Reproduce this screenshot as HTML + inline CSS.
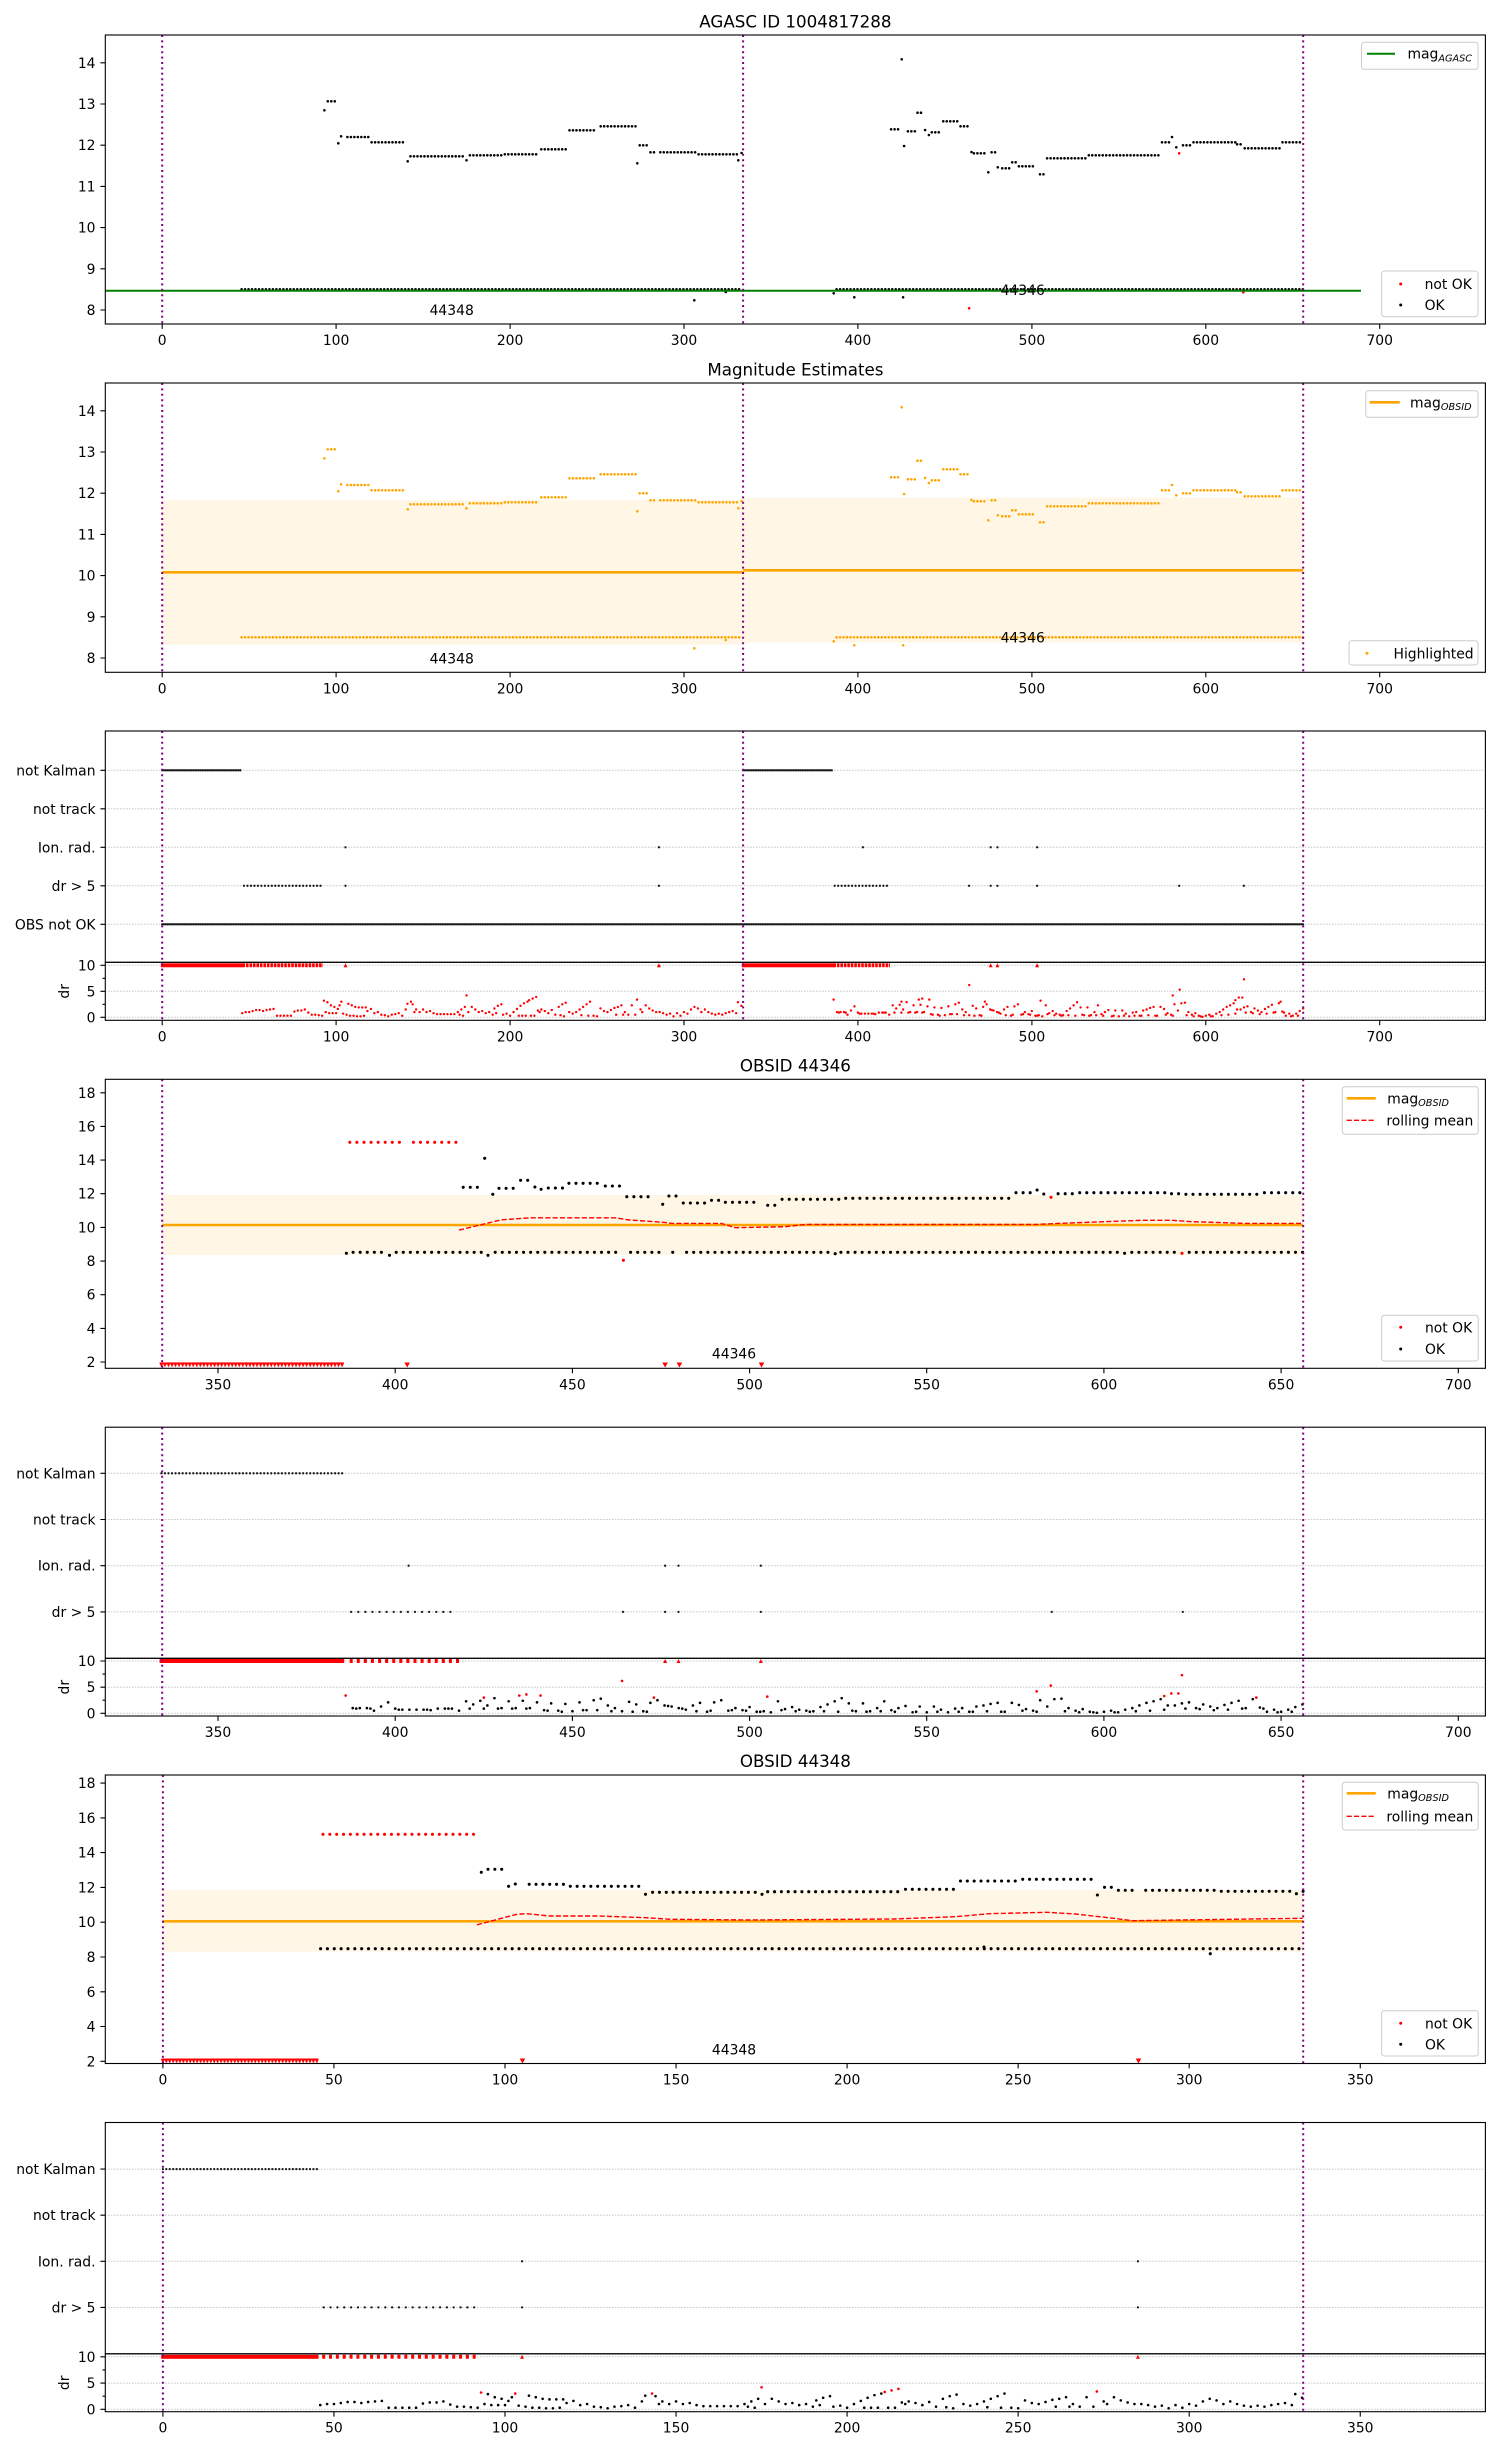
<!DOCTYPE html>
<html><head><meta charset="utf-8"><style>
html,body{margin:0;padding:0;background:#fff;overflow:hidden}
svg{display:block}
.t{font-family:"DejaVu Sans","Liberation Sans",sans-serif;font-size:13.9px;fill:#000}
.ti{font-family:"DejaVu Sans","Liberation Sans",sans-serif;font-size:16.7px;fill:#000;text-anchor:middle}
.e{text-anchor:end}.m{text-anchor:middle}
.ax{fill:none;stroke:#000;stroke-width:1.1}
.tk{fill:none;stroke:#000;stroke-width:1.1}
.g{fill:none;stroke:#b0b0b0;stroke-width:1;stroke-dasharray:1.1 1.9}
.v{fill:none;stroke:#800080;stroke-width:2;stroke-dasharray:2 3.4}
.k1{fill:none;stroke-width:2.6;stroke-linecap:round;stroke-dasharray:0 3.479}
.s1{fill:none;stroke-width:2.6;stroke-linecap:round}
.k4{fill:none;stroke-width:3.1;stroke-linecap:round;stroke-dasharray:0 7.087}
.k6{fill:none;stroke-width:3.1;stroke-linecap:round;stroke-dasharray:0 6.842}
.s4{fill:none;stroke-width:3.1;stroke-linecap:round}
.fd{fill:none;stroke:#1a1a1a;stroke-width:2.3;stroke-linecap:round}
.lg{fill:#fff;fill-opacity:0.8;stroke:#cccccc;stroke-width:1}
.rm{fill:none;stroke:#f00;stroke-width:1.4;stroke-dasharray:5.1 2.2}
</style></head><body>
<svg width="1500" height="2450" viewBox="0 0 1500 2450" xmlns="http://www.w3.org/2000/svg">
<defs>
<marker id="m3r" markerUnits="userSpaceOnUse" markerWidth="4" markerHeight="4" refX="0" refY="0" overflow="visible"><ellipse rx="0.69" ry="0.23" fill="#f00"/></marker>
<marker id="m5k" markerUnits="userSpaceOnUse" markerWidth="4" markerHeight="4" refX="0" refY="0" overflow="visible"><ellipse rx="0.37" ry="0.25" fill="#000"/></marker>
<marker id="m5r" markerUnits="userSpaceOnUse" markerWidth="4" markerHeight="4" refX="0" refY="0" overflow="visible"><ellipse rx="0.37" ry="0.25" fill="#f00"/></marker>
<marker id="m7k" markerUnits="userSpaceOnUse" markerWidth="4" markerHeight="4" refX="0" refY="0" overflow="visible"><ellipse rx="0.38" ry="0.248" fill="#000"/></marker>
<marker id="m7r" markerUnits="userSpaceOnUse" markerWidth="4" markerHeight="4" refX="0" refY="0" overflow="visible"><ellipse rx="0.38" ry="0.248" fill="#f00"/></marker>
<pattern id="tv4" patternUnits="userSpaceOnUse" x="159.6" y="1362.3" width="3.5436" height="6"><path d="M0 0H3.5436V1.4L1.77 5L0 1.4Z" fill="#f00"/></pattern>
<pattern id="tv6" patternUnits="userSpaceOnUse" x="161.19" y="2058.5" width="3.421" height="6"><path d="M0 0H3.421V1.4L1.71 5L0 1.4Z" fill="#f00"/></pattern>
<g id="md">
<path class="k1" d="M327.8 101.3H335.5M347.4 137H368.5M371.6 142.3H406.2M410.5 156.3H464.6M469.9 155.3H502.9M504.8 154.3H538.3M541.3 149.3H566.2M569.5 130.3H597.2M600.7 126.3H635.9M639.7 145.3H647M650.5 152.3H656M660.3 152.3H696.7M698.6 154.3H737.3M241.6 289.3H742M836.6 289.3H1303.5M891.1 129.3H899.8M907.9 131.3H916.5M917.5 112.7H923.2M931.8 132.3H940.5M943.3 121.3H958.2M960.5 126.3H968.7M973.9 153.3H984.9M991.6 152.3H996M1002.2 168.3H1010.3M1012.2 162.3H1017M1018.9 166.3H1033.8M1040 174.3H1045.2M1047.1 158.3H1086.9M1088.8 155.3H1159.6M1162 142.3H1170.6M1183 145.3H1191.2M1193.5 142.3H1236.1M1237.1 144.3H1243.3M1244.7 148.3H1281.6M1282.5 142.3H1303.1"/>
<path class="s1" d="M324.4 110.3h0M338.3 143.3h0M341.1 136.3h0M407.7 161.3h0M466.5 160.3h0M637.3 163.3h0M738.3 160.3h0M741.6 153h0M694.3 300.3h0M725.8 292h0M833.7 293.3h0M854.3 297.3h0M903.1 297.3h0M901.7 59.3h0M904.1 146h0M925.1 130h0M928.9 135h0M971.5 152h0M988.3 172.3h0M997.8 167.3h0M1172 137h0M1176.3 147.3h0"/>
</g>
</defs>

<!-- ================= PANEL 1 ================= -->
<text class="ti" x="795.4" y="27.5">AGASC ID 1004817288</text>
<use href="#md" stroke="#000"/>
<path class="s1" stroke="#f00" d="M969.1 308.3h0M1243.3 292.3h0M1179.2 153.3h0"/>
<path d="M105.3 290.7H1361" stroke="#008000" stroke-width="2" fill="none"/>
<path class="v" d="M162.2 35V324M743.1 35V324M1303.2 35V324"/>
<text class="t m" x="451.7" y="315">44348</text>
<text class="t m" x="1022.7" y="295">44346</text>
<rect class="ax" x="105.3" y="35" width="1380.1" height="289"/>
<path class="tk" d="M100.4 310H105.3M100.4 268.8H105.3M100.4 227.6H105.3M100.4 186.4H105.3M100.4 145.2H105.3M100.4 104H105.3M100.4 62.8H105.3M162.2 324V328.9M336.1 324V328.9M510.1 324V328.9M684 324V328.9M857.9 324V328.9M1031.9 324V328.9M1205.8 324V328.9M1379.7 324V328.9"/>
<g class="t e"><text x="95.5" y="315">8</text><text x="95.5" y="273.8">9</text><text x="95.5" y="232.6">10</text><text x="95.5" y="191.4">11</text><text x="95.5" y="150.2">12</text><text x="95.5" y="109">13</text><text x="95.5" y="67.8">14</text></g>
<g class="t m"><text x="162.2" y="345">0</text><text x="336.1" y="345">100</text><text x="510.1" y="345">200</text><text x="684" y="345">300</text><text x="857.9" y="345">400</text><text x="1031.9" y="345">500</text><text x="1205.8" y="345">600</text><text x="1379.7" y="345">700</text></g>
<rect class="lg" x="1361.5" y="42.3" width="116.5" height="27" rx="2.8"/>
<path d="M1367 53.7H1395" stroke="#008000" stroke-width="2"/>
<text class="t" x="1407.5" y="58.5">mag<tspan font-style="italic" font-size="9.7" dy="2.8">AGASC</tspan></text>
<rect class="lg" x="1381.6" y="271" width="96.4" height="45.7" rx="2.8"/>
<circle cx="1400.7" cy="284" r="1.5" fill="#f00"/><text class="t" x="1424.6" y="289">not OK</text>
<circle cx="1400.7" cy="305" r="1.5" fill="#000"/><text class="t" x="1424.6" y="310">OK</text>

<!-- ================= PANEL 2 ================= -->
<text class="ti" x="795.4" y="375.3">Magnitude Estimates</text>
<rect x="162.2" y="500" width="580.9" height="144.7" fill="orange" fill-opacity="0.1"/>
<rect x="743.1" y="497.7" width="560.1" height="145" fill="orange" fill-opacity="0.1"/>
<use href="#md" stroke="#ffa500" transform="translate(0,348)"/>
<path d="M162.2 572.3H743.1M743.1 570.3H1303.2" stroke="#ffa500" stroke-width="2.6" fill="none"/>
<path class="v" d="M162.2 383V672.3M743.1 383V672.3M1303.2 383V672.3"/>
<text class="t m" x="451.7" y="663.3">44348</text>
<text class="t m" x="1022.7" y="642.7">44346</text>
<rect class="ax" x="105.3" y="383" width="1380.1" height="289.3"/>
<path class="tk" d="M100.4 658H105.3M100.4 616.8H105.3M100.4 575.6H105.3M100.4 534.4H105.3M100.4 493.2H105.3M100.4 452H105.3M100.4 410.8H105.3M162.2 672.3V677.2M336.1 672.3V677.2M510.1 672.3V677.2M684 672.3V677.2M857.9 672.3V677.2M1031.9 672.3V677.2M1205.8 672.3V677.2M1379.7 672.3V677.2"/>
<g class="t e"><text x="95.5" y="663">8</text><text x="95.5" y="621.8">9</text><text x="95.5" y="580.6">10</text><text x="95.5" y="539.4">11</text><text x="95.5" y="498.2">12</text><text x="95.5" y="457">13</text><text x="95.5" y="415.8">14</text></g>
<g class="t m"><text x="162.2" y="693.3">0</text><text x="336.1" y="693.3">100</text><text x="510.1" y="693.3">200</text><text x="684" y="693.3">300</text><text x="857.9" y="693.3">400</text><text x="1031.9" y="693.3">500</text><text x="1205.8" y="693.3">600</text><text x="1379.7" y="693.3">700</text></g>
<rect class="lg" x="1365.8" y="390.7" width="112.2" height="26.6" rx="2.8"/>
<path d="M1369.6 402.3H1399.8" stroke="#ffa500" stroke-width="2.6"/>
<text class="t" x="1410" y="407.3">mag<tspan font-style="italic" font-size="9.7" dy="2.8">OBSID</tspan></text>
<rect class="lg" x="1349" y="640.7" width="129" height="24.3" rx="2.8"/>
<circle cx="1367" cy="653.3" r="1.5" fill="#ffa500"/><text class="t" x="1393.5" y="658.3">Highlighted</text>

<!-- ================= PANEL 3 ================= -->
<path class="g" d="M105.3 770.3H1485.4M105.3 808.8H1485.4M105.3 847.3H1485.4M105.3 885.8H1485.4M105.3 924.3H1485.4M105.3 965.3H1485.4M105.3 991.3H1485.4M105.3 1017.3H1485.4"/>
<path class="fd" stroke-dasharray="0 1.739" d="M162.2 770.3H242M743.1 770.3H833.2M162.2 924.3H1303.6"/>
<path class="fd" stroke-dasharray="0 3.479" d="M244 885.8H322M834.7 885.8H889.3"/>
<path class="fd" d="M345.5 847.3h0M658.9 847.3h0M862.9 847.3h0M990.7 847.3h0M997.4 847.3h0M1037.1 847.3h0M345.5 885.8h0M658.9 885.8h0M969.1 885.8h0M990.7 885.8h0M997.4 885.8h0M1037.1 885.8h0M1179.2 885.8h0M1243.8 885.8h0"/>
<rect x="160.9" y="963.3" width="82" height="4" fill="#f00"/>
<rect x="741.8" y="963.3" width="92.3" height="4" fill="#f00"/>
<path d="M242.5 965.3H323M833.4 965.3H890" stroke="#f00" stroke-width="4" stroke-dasharray="2.6 0.88" fill="none"/>
<path fill="#f00" d="M343.5 967.3h4l-2 -4zM656.9 967.3h4l-2 -4zM988.7 967.3h4l-2 -4zM995.4 967.3h4l-2 -4zM1035.1 967.3h4l-2 -4z"/>
<g transform="matrix(1.7393 0 0 -5.2 162.2 1017.3)">
<polyline fill="none" stroke="none" marker-start="url(#m3r)" marker-mid="url(#m3r)" marker-end="url(#m3r)" points="46,0.8 48,1 50,1 52,1.2 54,1.4 56,1.4 58,1.2 60,1.4 62,1.5 64,1.6 66,0.3 68,0.3 70,0.3 72,0.3 74,0.3 76,1.1 78,1.3 80,1.3 82,1.5 84,0.9 86,0.5 88,0.5 90,0.4 92,0.3 94,1 95,2.9 96,0.8 97,2.3 98,0.8 99,2 100,0.8 101,1.6 102,2.3 104,0.7 106,0.5 107,2.6 108,0.3 109,2.3 110,0.3 111,2 112,0.2 113,1.9 114,0.2 115,1.9 116,0.3 117,1.9 118,1.2 120,1.6 122,0.8 124,1 126,0.5 128,0.4 130,0.2 132,0.5 134,0.6 136,0.8 138,0.3 140,1.5 141,2.6 144,2.5 145,1 146,1.5 148,1 150,1.5 152,1 154,1.2 156,0.8 158,0.6 160,0.6 162,0.6 164,0.6 166,0.6 168,0.6 170,1 171,0.5 172,1.5 173,0.3 174,2 176,1 178,2 180,1.5 182,1 184,1.2 186,0.8 188,1 190,0.5 191,1.7 192,0.8 193,2.2 195,2.5 196,0.5 198,0.7 200,0.3 202,1 204,1.6 205,0.3 206,2.2 207,0.3 208,2.7 209,0.3 210,3 212,0.3 214,0.3 216,1.3 217,1 218,1.5 220,1.2 222,0.8 224,1.4 226,0.5 228,2 229,0.4 230,2.5 231,0.2 232,2.8 234,1 236,0.7 238,1 240,1.5 241,0.4 242,2 244,2.5 245,0.3 246,3 248,0.3 250,0.2 252,1.7 254,1.2 256,1 258,1.4 260,1.8 261,0.5 262,2 264,2.3 265,0.5 266,1 268,0.5 270,2.3 272,0.5 275,1.5 276,1 278,2.3 280,1.7 282,1.3 284,1 286,1 288,0.8 290,0.5 292,0.7 294,0.2 296,0.8 298,0.3 300,1 302,0.7 304,1.5 306,2 308,1.7 310,1 312,1.5 314,1 316,0.7 318,0.5 320,0.7 322,0.5 324,0.8 326,1 328,1.2 330,0.8 331,2.9 333,2.2 93,3.2 103,3 143,3 175,4.2 211,3.3 213,3.6 215,3.9 273,3.4"/>
<polyline fill="none" stroke="none" marker-start="url(#m3r)" marker-mid="url(#m3r)" marker-end="url(#m3r)" points="388,1 390,1 392,1 394,0.5 396,1.3 398,2.1 400,0.9 402,0.7 404,0.7 406,0.7 408,0.7 410,0.6 412,0.9 414,0.9 416,0.9 418,0.5 420,2.3 422,1.7 424,2.4 426,1.5 428,2.9 430,1 432,2.3 434,1 436,2.4 438,1 440,2.1 442,0.6 444,1.9 446,0.5 448,1.8 450,0.4 452,2.1 454,0.6 456,2.5 458,2.8 460,1.5 462,1 464,0.4 466,2.2 468,1.7 470,0.4 472,2 474,2.5 476,1.5 478,1.3 480,1 482,0.7 484,1.5 486,2 488,0.3 490,2.1 492,2.5 494,0.5 496,1 498,0.6 500,1.2 502,0.3 504,0.4 506,0.2 508,2.3 510,0.8 512,1.2 514,0.7 516,0.5 518,0.4 520,1.2 522,1.7 524,2.3 526,2.9 528,1.9 530,0.4 532,1.9 534,0.4 536,1 538,2.3 540,0.6 542,1 544,1.4 546,0.2 548,1.3 550,0.2 552,1.3 554,0.7 556,0.2 558,0.9 560,1 562,0.3 564,1.3 566,1.5 568,1.8 570,2 572,0.3 574,2 576,1.6 578,0.8 580,0.5 582,2.5 584,1.3 586,2.7 588,2.8 590,1 592,0.5 594,0.8 596,0.3 598,0.1 600,0.3 602,0.5 604,0.2 606,0.7 608,1 610,1.5 612,2 614,2.3 616,2.7 618,1.5 620,1.5 622,1.9 624,2.1 626,1 628,1.7 630,1.3 632,1 634,1.6 636,2 638,2.4 640,1 642,2.7 644,1.1 646,0.3 648,0.7 650,0.3 652,0.7 654,1.2 656,1.7 389,0.9 393,0.9 401,0.7 409,0.7 415,0.9 421,0.9 425,0.9 429,0.9 433,0.9 437,0.9 443,0.5 447,0.3 453,0.6 457,0.6 461,0.4 467,0.3 471,0.3 477,1.4 481,0.9 485,0.4 489,0.5 495,0.6 499,0.5 503,0.3 509,0.6 513,0.4 517,0.3 521,0.4 525,0.3 529,0.5 533,0.3 537,0.4 541,0.3 547,0.3 553,0.3 559,0.3 563,0.3 567,0.4 571,0.3 577,0.5 581,0.3 589,0.4 593,0.2 597,0.2 603,0.2 609,0.4 613,0.5 617,0.7 623,0.9 627,0.8 631,0.6 635,0.7 639,0.9 645,0.9 649,0.2 653,0.3 386,3.4 425,3 435,3.4 437,3.6 441,3.4 464,6.2 473,3 505,3.2 581,4.2 585,5.3 617,3.3 619,3.8 621,3.8 622,7.3 643,3"/>
</g>
<path class="v" d="M162.2 731V1020.3M743.1 731V1020.3M1303.2 731V1020.3"/>
<rect class="ax" x="105.3" y="731" width="1380.1" height="231.3"/>
<rect class="ax" x="105.3" y="962.3" width="1380.1" height="58"/>
<path class="tk" d="M100.4 770.3H105.3M100.4 808.8H105.3M100.4 847.3H105.3M100.4 885.8H105.3M100.4 924.3H105.3M100.4 965.3H105.3M100.4 991.3H105.3M100.4 1017.3H105.3M102.5 978.3H105.3M102.5 1004.3H105.3M162.2 1020.3V1025.2M336.1 1020.3V1025.2M510.1 1020.3V1025.2M684 1020.3V1025.2M857.9 1020.3V1025.2M1031.9 1020.3V1025.2M1205.8 1020.3V1025.2M1379.7 1020.3V1025.2"/>
<g class="t e"><text x="95.5" y="775.3">not Kalman</text><text x="95.5" y="813.8">not track</text><text x="95.5" y="852.3">Ion. rad.</text><text x="95.5" y="890.8">dr &gt; 5</text><text x="95.5" y="929.3">OBS not OK</text><text x="95.5" y="970.3">10</text><text x="95.5" y="996.3">5</text><text x="95.5" y="1022.3">0</text></g>
<text class="t m" transform="translate(69,991.3) rotate(-90)">dr</text>
<g class="t m"><text x="162.2" y="1041.3">0</text><text x="336.1" y="1041.3">100</text><text x="510.1" y="1041.3">200</text><text x="684" y="1041.3">300</text><text x="857.9" y="1041.3">400</text><text x="1031.9" y="1041.3">500</text><text x="1205.8" y="1041.3">600</text><text x="1379.7" y="1041.3">700</text></g>

<!-- ================= PANEL 4 ================= -->
<text class="ti" x="795.4" y="1071.3">OBSID 44346</text>
<rect x="162.2" y="1195" width="1141" height="60" fill="orange" fill-opacity="0.1"/>
<path class="k4" stroke="#f00" d="M349.8 1142.3H402M413.4 1142.3H458.4"/>
<path class="k4" stroke="#000" d="M463.2 1187.3H478M499 1188.3H513.9M520.6 1180.3H528.3M548.3 1188H563.2M568.9 1183.3H598.6M605.3 1186H620.1M626.8 1196.7H655M668.9 1196H676.6M683.3 1203H705.3M711.5 1200.3H719.2M725.4 1202.3H746.9M767.7 1205.3H775.9M782.1 1199.3H841.4M845.7 1198.3H1011.3M1016 1192.7H1032.8M1058.1 1193.7H1073M1079.7 1192.7H1165.8M1171.5 1193.7H1179.2M1185.9 1194.3H1257.7M1264.4 1192.7H1300.7M353.1 1252.3H383.3M396.2 1252.3H482.8M495.2 1252.3H616.8M630.6 1252.3H659.8M686.6 1252.3H746.9M750 1252.3H829.5M840.9 1252.3H1118.9M1131.8 1252.3H1176.3M1189.2 1252.3H1303.1"/>
<path class="s4" stroke="#000" d="M484.7 1158.3h0M492.8 1194.3h0M534.9 1187h0M541.1 1189.3h0M662.7 1204.3h0M753.8 1202.3h0M1037.1 1190h0M1043.8 1194h0M346.4 1253.3h0M389.5 1255.3h0M488 1255.3h0M672.7 1252.3h0M835.2 1253.7h0M1124.6 1253.3h0"/>
<path class="s4" stroke="#f00" d="M1051 1197.3h0M623.4 1260.3h0M1182 1253.3h0"/>
<path d="M162.2 1225H1303.2" stroke="#ffa500" stroke-width="2.6" fill="none"/>
<polyline class="rm" points="459,1230.1 480.2,1224.9 501.5,1219.8 529.9,1217.8 614.9,1217.8 629.1,1220 664.5,1222.4 671.6,1223.4 721.2,1223.4 735.4,1227.7 785,1226.7 806.3,1224.4 1036.6,1224.4 1068.5,1223 1142.9,1220.3 1171.3,1220.3 1192.5,1221.7 1245.7,1223.4 1302.4,1223.4"/>
<rect x="159.6" y="1362.3" width="184.3" height="5.5" fill="url(#tv4)"/>
<path fill="#f00" d="M404.4 1362.5h5.6l-2.8 5zM662.3 1362.5h5.6l-2.8 5zM676.6 1362.5h5.6l-2.8 5zM758.7 1362.5h5.6l-2.8 5z"/>
<path class="v" d="M162.2 1079.3V1368.3M1303.2 1079.3V1368.3"/>
<text class="t m" x="734" y="1358.3">44346</text>
<rect class="ax" x="105.3" y="1079.3" width="1380.1" height="289"/>
<path class="tk" d="M100.4 1362H105.3M100.4 1328.4H105.3M100.4 1294.7H105.3M100.4 1261.1H105.3M100.4 1227.4H105.3M100.4 1193.7H105.3M100.4 1160.1H105.3M100.4 1126.4H105.3M100.4 1092.8H105.3M218 1368.3V1373.2M395.2 1368.3V1373.2M572.4 1368.3V1373.2M749.6 1368.3V1373.2M926.7 1368.3V1373.2M1103.9 1368.3V1373.2M1281.1 1368.3V1373.2M1458.3 1368.3V1373.2"/>
<g class="t e"><text x="95.5" y="1367">2</text><text x="95.5" y="1333.4">4</text><text x="95.5" y="1299.7">6</text><text x="95.5" y="1266.1">8</text><text x="95.5" y="1232.4">10</text><text x="95.5" y="1198.7">12</text><text x="95.5" y="1165.1">14</text><text x="95.5" y="1131.4">16</text><text x="95.5" y="1097.8">18</text></g>
<g class="t m"><text x="218" y="1389.3">350</text><text x="395.2" y="1389.3">400</text><text x="572.4" y="1389.3">450</text><text x="749.6" y="1389.3">500</text><text x="926.7" y="1389.3">550</text><text x="1103.9" y="1389.3">600</text><text x="1281.1" y="1389.3">650</text><text x="1458.3" y="1389.3">700</text></g>
<rect class="lg" x="1342.3" y="1086.7" width="135.9" height="47.6" rx="2.8"/>
<path d="M1346.7 1098.3H1375.8" stroke="#ffa500" stroke-width="2.6"/>
<text class="t" x="1387.3" y="1103.3">mag<tspan font-style="italic" font-size="9.7" dy="2.8">OBSID</tspan></text>
<path class="rm" d="M1346.7 1120.3H1375.8"/>
<text class="t" x="1386.4" y="1125.3">rolling mean</text>
<rect class="lg" x="1381.6" y="1315.3" width="96.6" height="45.7" rx="2.8"/>
<circle cx="1400.7" cy="1327.3" r="1.5" fill="#f00"/><text class="t" x="1425" y="1332.3">not OK</text>
<circle cx="1400.7" cy="1349" r="1.5" fill="#000"/><text class="t" x="1425" y="1354">OK</text>

<!-- ================= PANEL 5 ================= -->
<path class="g" d="M105.3 1473.3H1485.4M105.3 1519.5H1485.4M105.3 1565.7H1485.4M105.3 1611.9H1485.4M105.3 1661H1485.4M105.3 1687.2H1485.4M105.3 1713.3H1485.4"/>
<path class="fd" stroke-dasharray="0 3.544" d="M161.4 1473.3H343"/>
<path class="fd" stroke-dasharray="0 7.087" d="M351.2 1611.9H457"/>
<path class="fd" d="M408.6 1565.7h0M665.1 1565.7h0M678.5 1565.7h0M760.8 1565.7h0M623 1611.9h0M665.1 1611.9h0M678.5 1611.9h0M760.8 1611.9h0M1051.7 1611.9h0M1182.8 1611.9h0"/>
<rect x="159.6" y="1659" width="184.6" height="4" fill="#f00"/>
<path d="M349.7 1661H460" stroke="#f00" stroke-width="4" stroke-dasharray="3 4.087" fill="none"/>
<path fill="#f00" d="M663.1 1663h4l-2 -4zM676.5 1663h4l-2 -4zM758.8 1663h4l-2 -4z"/>
<g transform="matrix(3.5436 0 0 -5.23 -1022.2 1713.3)">
<polyline fill="none" stroke="none" marker-start="url(#m5k)" marker-mid="url(#m5k)" marker-end="url(#m5k)" points="388,1 390,1 392,1 394,0.5 396,1.3 398,2.1 400,0.9 402,0.7 404,0.7 406,0.7 408,0.7 410,0.6 412,0.9 414,0.9 416,0.9 418,0.5 420,2.3 422,1.7 424,2.4 426,1.5 428,2.9 430,1 432,2.3 434,1 436,2.4 438,1 440,2.1 442,0.6 444,1.9 446,0.5 448,1.8 450,0.4 452,2.1 454,0.6 456,2.5 458,2.8 460,1.5 462,1 464,0.4 466,2.2 468,1.7 470,0.4 472,2 474,2.5 476,1.5 478,1.3 480,1 482,0.7 484,1.5 486,2 488,0.3 490,2.1 492,2.5 494,0.5 496,1 498,0.6 500,1.2 502,0.3 504,0.4 506,0.2 508,2.3 510,0.8 512,1.2 514,0.7 516,0.5 518,0.4 520,1.2 522,1.7 524,2.3 526,2.9 528,1.9 530,0.4 532,1.9 534,0.4 536,1 538,2.3 540,0.6 542,1 544,1.4 546,0.2 548,1.3 550,0.2 552,1.3 554,0.7 556,0.2 558,0.9 560,1 562,0.3 564,1.3 566,1.5 568,1.8 570,2 572,0.3 574,2 576,1.6 578,0.8 580,0.5 582,2.5 584,1.3 586,2.7 588,2.8 590,1 592,0.5 594,0.8 596,0.3 598,0.1 600,0.3 602,0.5 604,0.2 606,0.7 608,1 610,1.5 612,2 614,2.3 616,2.7 618,1.5 620,1.5 622,1.9 624,2.1 626,1 628,1.7 630,1.3 632,1 634,1.6 636,2 638,2.4 640,1 642,2.7 644,1.1 646,0.3 648,0.7 650,0.3 652,0.7 654,1.2 656,1.7 389,0.9 393,0.9 401,0.7 409,0.7 415,0.9 421,0.9 425,0.9 429,0.9 433,0.9 437,0.9 443,0.5 447,0.3 453,0.6 457,0.6 461,0.4 467,0.3 471,0.3 477,1.4 481,0.9 485,0.4 489,0.5 495,0.6 499,0.5 503,0.3 509,0.6 513,0.4 517,0.3 521,0.4 525,0.3 529,0.5 533,0.3 537,0.4 541,0.3 547,0.3 553,0.3 559,0.3 563,0.3 567,0.4 571,0.3 577,0.5 581,0.3 589,0.4 593,0.2 597,0.2 603,0.2 609,0.4 613,0.5 617,0.7 623,0.9 627,0.8 631,0.6 635,0.7 639,0.9 645,0.9 649,0.2 653,0.3"/>
<polyline fill="none" stroke="none" marker-start="url(#m5r)" marker-mid="url(#m5r)" marker-end="url(#m5r)" points="386,3.4 425,3 435,3.4 437,3.6 441,3.4 464,6.2 473,3 505,3.2 581,4.2 585,5.3 617,3.3 619,3.8 621,3.8 622,7.3 643,3"/>
</g>
<path class="v" d="M162.2 1427.2V1716M1303.2 1427.2V1716"/>
<rect class="ax" x="105.3" y="1427.2" width="1380.1" height="231.1"/>
<rect class="ax" x="105.3" y="1658.3" width="1380.1" height="57.7"/>
<path class="tk" d="M100.4 1473.3H105.3M100.4 1519.5H105.3M100.4 1565.7H105.3M100.4 1611.9H105.3M100.4 1661H105.3M100.4 1687.2H105.3M100.4 1713.3H105.3M102.5 1674.1H105.3M102.5 1700.2H105.3M218 1716V1720.9M395.2 1716V1720.9M572.4 1716V1720.9M749.6 1716V1720.9M926.7 1716V1720.9M1103.9 1716V1720.9M1281.1 1716V1720.9M1458.3 1716V1720.9"/>
<g class="t e"><text x="95.5" y="1478.3">not Kalman</text><text x="95.5" y="1524.5">not track</text><text x="95.5" y="1570.7">Ion. rad.</text><text x="95.5" y="1616.9">dr &gt; 5</text><text x="95.5" y="1666">10</text><text x="95.5" y="1692.2">5</text><text x="95.5" y="1718.3">0</text></g>
<text class="t m" transform="translate(69,1687.2) rotate(-90)">dr</text>
<g class="t m"><text x="218" y="1737">350</text><text x="395.2" y="1737">400</text><text x="572.4" y="1737">450</text><text x="749.6" y="1737">500</text><text x="926.7" y="1737">550</text><text x="1103.9" y="1737">600</text><text x="1281.1" y="1737">650</text><text x="1458.3" y="1737">700</text></g>

<!-- ================= PANEL 6 ================= -->
<text class="ti" x="795.4" y="1767">OBSID 44348</text>
<rect x="162.9" y="1890" width="1140.3" height="61.7" fill="orange" fill-opacity="0.1"/>
<path class="k6" stroke="#f00" d="M323 1834.3H475.6"/>
<path class="k6" stroke="#000" d="M488 1869.3H502M529.2 1884.3H564.1M570.3 1886.3H639.3M652.6 1892.3H759.9M767.7 1891.7H899.8M905.5 1889.3H954.8M960.5 1881H1016.5M1022.7 1879.3H1091.2M1104.5 1887.3H1111.7M1118.4 1890.3H1133.3M1145.7 1890.3H1214.6M1221.3 1891.3H1291.2M320.6 1948.7H1303.5"/>
<path class="s4" stroke="#000" d="M481.3 1872.3h0M508.6 1886.3h0M515.3 1884h0M645.5 1894.3h0M762 1894.3h0M1097.4 1895h0M1296.4 1893.7h0M1303.1 1891.3h0M984 1947h0M1210.3 1953.7h0"/>
<path d="M162.9 1921.3H1303.2" stroke="#ffa500" stroke-width="2.6" fill="none"/>
<polyline class="rm" points="477,1924.8 516.7,1914.3 526.3,1913.7 550.2,1916 598.1,1916 645.9,1917.7 669.9,1919.3 750,1920 893.5,1919 955.7,1916.7 989.2,1913.7 1046.7,1912.3 1075.4,1914 1113.6,1918.3 1132.8,1920.7 1180.6,1920 1302.6,1918.3"/>
<rect x="161.19" y="2058.5" width="157.3" height="5" fill="url(#tv6)"/>
<path fill="#f00" d="M519.7 2058.5h5.6l-2.8 5zM1135.7 2058.5h5.6l-2.8 5z"/>
<path class="v" d="M162.9 1775V2063.5M1303.2 1775V2063.5"/>
<text class="t m" x="734" y="2054.3">44348</text>
<rect class="ax" x="105.3" y="1775" width="1380.1" height="288.5"/>
<path class="tk" d="M100.4 2061.3H105.3M100.4 2026.5H105.3M100.4 1991.8H105.3M100.4 1957H105.3M100.4 1922.2H105.3M100.4 1887.4H105.3M100.4 1852.6H105.3M100.4 1817.9H105.3M100.4 1783.1H105.3M162.9 2063.5V2068.4M333.95 2063.5V2068.4M505 2063.5V2068.4M676.05 2063.5V2068.4M847.1 2063.5V2068.4M1018.15 2063.5V2068.4M1189.2 2063.5V2068.4M1360.25 2063.5V2068.4"/>
<g class="t e"><text x="95.5" y="2066.3">2</text><text x="95.5" y="2031.5">4</text><text x="95.5" y="1996.8">6</text><text x="95.5" y="1962">8</text><text x="95.5" y="1927.2">10</text><text x="95.5" y="1892.4">12</text><text x="95.5" y="1857.6">14</text><text x="95.5" y="1822.9">16</text><text x="95.5" y="1788.1">18</text></g>
<g class="t m"><text x="162.9" y="2084.5">0</text><text x="333.95" y="2084.5">50</text><text x="505" y="2084.5">100</text><text x="676.05" y="2084.5">150</text><text x="847.1" y="2084.5">200</text><text x="1018.15" y="2084.5">250</text><text x="1189.2" y="2084.5">300</text><text x="1360.25" y="2084.5">350</text></g>
<rect class="lg" x="1342.3" y="1782.3" width="135.9" height="47.7" rx="2.8"/>
<path d="M1346.7 1793.3H1375.8" stroke="#ffa500" stroke-width="2.6"/>
<text class="t" x="1387.3" y="1798.3">mag<tspan font-style="italic" font-size="9.7" dy="2.8">OBSID</tspan></text>
<path class="rm" d="M1346.7 1816.3H1375.8"/>
<text class="t" x="1386.4" y="1821.3">rolling mean</text>
<rect class="lg" x="1381.6" y="2010.7" width="96.6" height="45.3" rx="2.8"/>
<circle cx="1400.7" cy="2023.3" r="1.5" fill="#f00"/><text class="t" x="1425" y="2028.3">not OK</text>
<circle cx="1400.7" cy="2044.3" r="1.5" fill="#000"/><text class="t" x="1425" y="2049.3">OK</text>

<!-- ================= PANEL 7 ================= -->
<path class="g" d="M105.3 2169.1H1485.4M105.3 2215.2H1485.4M105.3 2261.3H1485.4M105.3 2307.4H1485.4M105.3 2356.8H1485.4M105.3 2383.1H1485.4M105.3 2409.3H1485.4"/>
<path class="fd" stroke-dasharray="0 3.421" d="M162.9 2169.1H317.3"/>
<path class="fd" stroke-dasharray="0 6.842" d="M323.7 2307.4H474.7"/>
<path class="fd" d="M522.1 2261.3h0M1137.9 2261.3h0M522.1 2307.4h0M1137.9 2307.4h0"/>
<rect x="161.2" y="2354.8" width="157.3" height="4" fill="#f00"/>
<path d="M322.2 2356.8H477" stroke="#f00" stroke-width="4" stroke-dasharray="3 3.842" fill="none"/>
<path fill="#f00" d="M520.1 2358.8h4l-2 -4zM1135.9 2358.8h4l-2 -4z"/>
<g transform="matrix(3.421 0 0 -5.25 162.9 2409.3)">
<polyline fill="none" stroke="none" marker-start="url(#m7k)" marker-mid="url(#m7k)" marker-end="url(#m7k)" points="46,0.8 48,1 50,1 52,1.2 54,1.4 56,1.4 58,1.2 60,1.4 62,1.5 64,1.6 66,0.3 68,0.3 70,0.3 72,0.3 74,0.3 76,1.1 78,1.3 80,1.3 82,1.5 84,0.9 86,0.5 88,0.5 90,0.4 92,0.3 94,1 95,2.9 96,0.8 97,2.3 98,0.8 99,2 100,0.8 101,1.6 102,2.3 104,0.7 106,0.5 107,2.6 108,0.3 109,2.3 110,0.3 111,2 112,0.2 113,1.9 114,0.2 115,1.9 116,0.3 117,1.9 118,1.2 120,1.6 122,0.8 124,1 126,0.5 128,0.4 130,0.2 132,0.5 134,0.6 136,0.8 138,0.3 140,1.5 141,2.6 144,2.5 145,1 146,1.5 148,1 150,1.5 152,1 154,1.2 156,0.8 158,0.6 160,0.6 162,0.6 164,0.6 166,0.6 168,0.6 170,1 171,0.5 172,1.5 173,0.3 174,2 176,1 178,2 180,1.5 182,1 184,1.2 186,0.8 188,1 190,0.5 191,1.7 192,0.8 193,2.2 195,2.5 196,0.5 198,0.7 200,0.3 202,1 204,1.6 205,0.3 206,2.2 207,0.3 208,2.7 209,0.3 210,3 212,0.3 214,0.3 216,1.3 217,1 218,1.5 220,1.2 222,0.8 224,1.4 226,0.5 228,2 229,0.4 230,2.5 231,0.2 232,2.8 234,1 236,0.7 238,1 240,1.5 241,0.4 242,2 244,2.5 245,0.3 246,3 248,0.3 250,0.2 252,1.7 254,1.2 256,1 258,1.4 260,1.8 261,0.5 262,2 264,2.3 265,0.5 266,1 268,0.5 270,2.3 272,0.5 275,1.5 276,1 278,2.3 280,1.7 282,1.3 284,1 286,1 288,0.8 290,0.5 292,0.7 294,0.2 296,0.8 298,0.3 300,1 302,0.7 304,1.5 306,2 308,1.7 310,1 312,1.5 314,1 316,0.7 318,0.5 320,0.7 322,0.5 324,0.8 326,1 328,1.2 330,0.8 331,2.9 333,2.2"/>
<polyline fill="none" stroke="none" marker-start="url(#m7r)" marker-mid="url(#m7r)" marker-end="url(#m7r)" points="93,3.2 103,3 143,3 175,4.2 211,3.3 213,3.6 215,3.9 273,3.4"/>
</g>
<path class="v" d="M162.9 2122.5V2411.7M1303.2 2122.5V2411.7"/>
<rect class="ax" x="105.3" y="2122.5" width="1380.1" height="231.3"/>
<rect class="ax" x="105.3" y="2353.8" width="1380.1" height="57.9"/>
<path class="tk" d="M100.4 2169.1H105.3M100.4 2215.2H105.3M100.4 2261.3H105.3M100.4 2307.4H105.3M100.4 2356.8H105.3M100.4 2383.1H105.3M100.4 2409.3H105.3M102.5 2369.9H105.3M102.5 2396.2H105.3M162.9 2411.7V2416.6M333.95 2411.7V2416.6M505 2411.7V2416.6M676.05 2411.7V2416.6M847.1 2411.7V2416.6M1018.15 2411.7V2416.6M1189.2 2411.7V2416.6M1360.25 2411.7V2416.6"/>
<g class="t e"><text x="95.5" y="2174.1">not Kalman</text><text x="95.5" y="2220.2">not track</text><text x="95.5" y="2266.3">Ion. rad.</text><text x="95.5" y="2312.4">dr &gt; 5</text><text x="95.5" y="2361.8">10</text><text x="95.5" y="2388.1">5</text><text x="95.5" y="2414.3">0</text></g>
<text class="t m" transform="translate(69,2382.8) rotate(-90)">dr</text>
<g class="t m"><text x="162.9" y="2432.7">0</text><text x="333.95" y="2432.7">50</text><text x="505" y="2432.7">100</text><text x="676.05" y="2432.7">150</text><text x="847.1" y="2432.7">200</text><text x="1018.15" y="2432.7">250</text><text x="1189.2" y="2432.7">300</text><text x="1360.25" y="2432.7">350</text></g>
</svg>
</body></html>
